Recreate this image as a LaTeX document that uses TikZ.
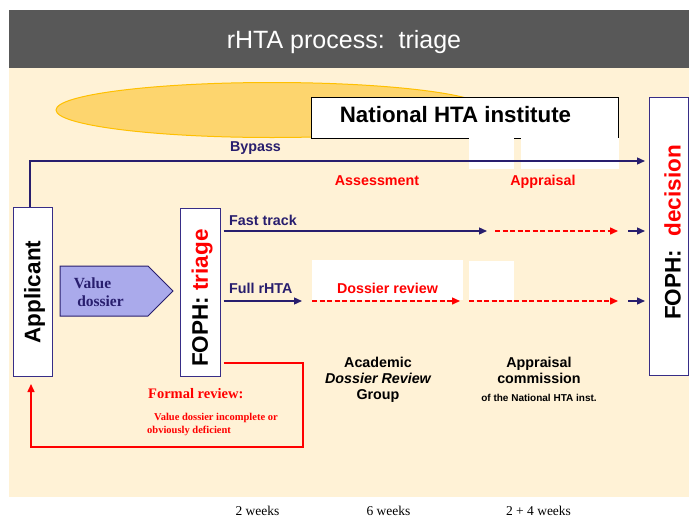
\documentclass[tikz,border=0pt]{standalone}
\usepackage{fontspec}
\setmainfont{Liberation Serif}
\setsansfont{Liberation Sans}
\usetikzlibrary{arrows.meta}
\definecolor{navy}{RGB}{40,30,110}
\definecolor{boxborder}{RGB}{55,45,135}
\definecolor{cream}{RGB}{255,242,214}
\definecolor{titlegray}{RGB}{88,88,88}
\definecolor{ellfill}{RGB}{253,213,110}
\definecolor{ellborder}{RGB}{255,192,0}
\definecolor{lav}{RGB}{170,170,235}
\definecolor{hred}{RGB}{255,0,0}
\begin{document}
\begin{tikzpicture}[x=1pt,y=-1pt,
  flow/.style={draw=navy,line width=1.3pt,-{Triangle[length=8pt,width=7pt]}},
  redflow/.style={draw=hred,line width=1.5pt,dash pattern=on 5pt off 2.5pt,-{Triangle[length=8pt,width=7pt]}},
  feedback/.style={draw=hred,line width=1.5pt,-{Triangle[length=8pt,width=7pt]}},
  vbox/.style={draw=boxborder,fill=white,line width=1pt,inner sep=0pt,rotate=90},
  whitepatch/.style={fill=white,draw=none},
  lbl/.style={font=\sffamily\bfseries\fontsize{14.3}{16}\selectfont,inner sep=0pt,anchor=base},
  navylbl/.style={lbl,text=navy},
  redlbl/.style={lbl,text=hred},
  bigv/.style={font=\sffamily\bfseries\fontsize{22.5}{24}\selectfont,inner sep=0pt,rotate=90},
  serifred/.style={font=\rmfamily\bfseries\fontsize{10.5}{12}\selectfont,text=hred,inner sep=0pt,anchor=base west},
  weeks/.style={font=\rmfamily\fontsize{13.5}{15}\selectfont,inner sep=0pt,anchor=base}
]
\useasboundingbox (0,0) rectangle (689,520);
\fill[white] (0,0) rectangle (689,520);
% background and title
\fill[cream] (9,68) rectangle (689,497);
\fill[titlegray] (9,10) rectangle (689,68);
\node[font=\sffamily\fontsize{25}{27}\selectfont,text=white,inner sep=0pt,anchor=base] (title) at (344,48) {rHTA process:\ \ triage};
% ellipse and institute box
\draw[fill=ellfill,draw=ellborder,line width=1pt] (272,110) ellipse [x radius=216, y radius=27.5];
\node[draw=black,fill=white,line width=0.8pt,minimum width=307pt,minimum height=41pt,inner sep=0pt] (inst) at (464.5,117.5) {};
\node[font=\sffamily\bfseries\fontsize{22.3}{24}\selectfont,inner sep=0pt,anchor=base] (instlbl) at (455.5,122) {National HTA institute};
% white patches
\fill[whitepatch] (469,138) rectangle (514,169);
\fill[whitepatch] (521,138) rectangle (619,169);
\fill[whitepatch] (312,260) rectangle (463,300);
\fill[whitepatch] (469,261) rectangle (514,300);
% main boxes
\node[vbox,minimum width=169pt,minimum height=39pt] (app) at (32.5,291.5) {};
\node[bigv] (applbl) at (34.5,292) {Applicant};
\node[vbox,minimum width=168pt,minimum height=40pt] (tri) at (200,292) {};
\node[bigv] (trilbl) at (202,298) {FOPH:\ \textcolor{hred}{triage}};
\node[vbox,minimum width=278pt,minimum height=39pt] (dec) at (668.5,236) {};
\node[bigv] (declbl) at (672.5,232.5) {FOPH:\hspace{0.6em}\textcolor{hred}{decision}};
% value dossier
\draw[fill=lav,draw=navy,line width=1pt] (60,266) -- (148,266) -- (173,291) -- (148,316) -- (60,316) -- cycle;
\node[font=\rmfamily\bfseries\fontsize{15.5}{17}\selectfont,text=navy,inner sep=0pt,anchor=base] (vd1) at (92.5,288) {Value};
\node[font=\rmfamily\bfseries\fontsize{15.5}{17}\selectfont,text=navy,inner sep=0pt,anchor=base] (vd2) at (100.5,306) {dossier};
% coordinates
\coordinate (bypassend) at (645,161);
\coordinate (ft1) at (487,231);
\coordinate (ft2a) at (495,231);
\coordinate (ft2b) at (618,231);
\coordinate (ft3a) at (628,231);
\coordinate (ft3b) at (645,231);
\coordinate (fr1) at (302,301);
\coordinate (fr2a) at (312,301);
\coordinate (fr2b) at (460,301);
\coordinate (fr3a) at (469,301);
\coordinate (fr3b) at (618,301);
\coordinate (fr4a) at (628,301);
\coordinate (fr4b) at (645,301);
\coordinate (fbcorner) at (303,363);
\coordinate (fbend) at (31,384);
% bypass
\draw[flow] ([xshift=-2.5pt]app.east) |- (bypassend);
\node[navylbl] (bypasslbl) at (255.5,151) {Bypass};
% fast track
\draw[flow] ([xshift=3pt]tri.south |- ft1) -- (ft1);
\draw[redflow] (ft2a) -- (ft2b);
\draw[flow] (ft3a) -- (ft3b);
\node[navylbl,anchor=base west] (ftlbl) at (229,225) {Fast track};
% full rHTA
\draw[flow] ([xshift=3pt]tri.south |- fr1) -- (fr1);
\draw[redflow] (fr2a) -- (fr2b);
\draw[redflow] (fr3a) -- (fr3b);
\draw[flow] (fr4a) -- (fr4b);
\node[navylbl,anchor=base west] (frlbl) at (229,293) {Full rHTA};
% phase labels
\node[redlbl] (assess) at (377,185) {Assessment};
\node[redlbl] (apprais) at (543,185) {Appraisal};
\node[redlbl] (dossrev) at (387.5,293) {Dossier review};
% feedback
\draw[feedback] ([xshift=3pt]tri.south |- fbcorner) -- (fbcorner) -- (303,447) -| (fbend);
\node[font=\rmfamily\bfseries\fontsize{14.5}{16}\selectfont,text=hred,inner sep=0pt,anchor=base west] (formal) at (148,398) {Formal review:};
\node[serifred] (fr1lbl) at (154,420) {Value dossier incomplete or};
\node[serifred] (fr2lbl) at (147,433) {obviously deficient};
% groups
\node[lbl] (acad1) at (378,367) {Academic};
\node[lbl] (acad2) at (378,383) {\itshape Dossier Review};
\node[lbl] (acad3) at (378,399) {Group};
\node[lbl] (appc1) at (539,367) {Appraisal};
\node[lbl] (appc2) at (539,383) {commission};
\node[lbl,font=\sffamily\bfseries\fontsize{10}{12}\selectfont] (appc3) at (539,401) {of the National HTA inst.};
% weeks
\node[weeks] (w1) at (257.5,515) {2 weeks};
\node[weeks] (w2) at (388.5,515) {6 weeks};
\node[weeks] (w3) at (538.5,515) {2 + 4 weeks};
\end{tikzpicture}
\end{document}
